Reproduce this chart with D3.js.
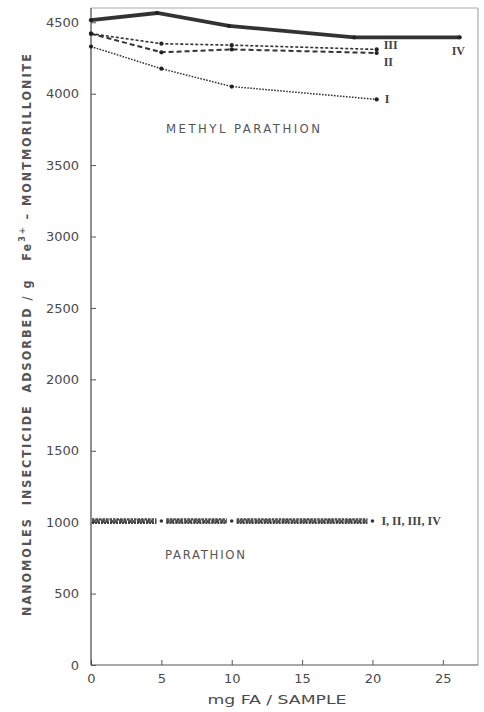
<!DOCTYPE html>
<html>
<head>
<meta charset="utf-8">
<script src="https://cdn.jsdelivr.net/npm/d3@7"></script>
<style>
  html, body { margin: 0; padding: 0; background: #fff; }
  svg { display: block; }
</style>
</head>
<body>
<svg id="chart" width="484" height="712"></svg>
<script>
// ---------- data ----------
const xTicks = [0, 5, 10, 15, 20, 25];
const yTicks = [0, 500, 1000, 1500, 2000, 2500, 3000, 3500, 4000, 4500];

// Methyl parathion (four fulvic acid fractions)
const mpX_IV = [0, 4.7, 9.8, 18.7, 26.2];
const mpY_IV = [4515, 4565, 4475, 4395, 4395];
const mpX_III = [0, 5, 10, 20.3];
const mpY_III = [4420, 4350, 4340, 4310];
const mpX_II = [0, 5, 10, 20.3];
const mpY_II = [4420, 4290, 4310, 4285];
const mpX_I = [0, 5, 10, 20.3];
const mpY_I = [4330, 4175, 4050, 3960];

// Parathion (all four fractions overlap)
const pX = [0, 5, 10, 20];
const pY_I = [995, 995, 995, 995];
const pY_II = [1005, 1005, 1005, 1005];
const pY_III = [1020, 1020, 1020, 1020];
const pY_IV = [1012, 1012, 1012, 1012];

const seriesLabels = ["I", "II", "III", "IV"];

// ---------- drawing ----------
const svg = d3.select("#chart");
const x = d3.scaleLinear().domain([0, 27.5]).range([91, 478]);
const y = d3.scaleLinear().domain([0, 4600]).range([665, 8]);

const ink = "#333";
const textCol = "#4a4a4a";

// frame (top & right are faint)
svg.append("line").attr("x1", x(0)).attr("x2", x(27.5)).attr("y1", y(4600)).attr("y2", y(4600))
  .attr("stroke", "#aaa").attr("stroke-width", 1);
svg.append("line").attr("x1", x(27.5)).attr("x2", x(27.5)).attr("y1", y(4600)).attr("y2", y(0))
  .attr("stroke", "#999").attr("stroke-width", 1);

// axes with inward ticks
const xAxis = d3.axisBottom(x).tickValues(xTicks).tickSize(-5).tickPadding(10)
  .tickFormat(d3.format("d"));
const gx = svg.append("g").attr("transform", `translate(0,${y(0)})`).call(xAxis);
gx.select(".domain").attr("d", `M${x(0)},0H${x(27.5)}`).attr("stroke", "#555").attr("stroke-width", 1.2);
gx.selectAll(".tick line").attr("stroke", "#555");
gx.selectAll(".tick text").attr("font-family", "DejaVu Sans, sans-serif").attr("font-size", 13)
  .attr("fill", textCol).attr("dy", "0.6em");

const yAxis = d3.axisLeft(y).tickValues(yTicks).tickSize(-5).tickPadding(12)
  .tickFormat(d3.format("d"));
const gy = svg.append("g").attr("transform", `translate(${x(0)},0)`).call(yAxis);
gy.select(".domain").attr("d", `M0,${y(4600)}V${y(0)}`).attr("stroke", "#444").attr("stroke-width", 1.2);
gy.selectAll(".tick line").attr("stroke", "#555");
gy.selectAll(".tick text").attr("font-family", "DejaVu Sans, sans-serif").attr("font-size", 13)
  .attr("fill", textCol);

// axis titles
svg.append("text").attr("x", 277).attr("y", 704).attr("text-anchor", "middle")
  .attr("font-family", "DejaVu Sans Condensed, DejaVu Sans, sans-serif").attr("font-size", 12.5)
  .attr("fill", textCol).attr("textLength", 139).attr("lengthAdjust", "spacingAndGlyphs")
  .text("mg FA / SAMPLE");

const yt = svg.append("text").attr("transform", "translate(31,335) rotate(-90)")
  .attr("text-anchor", "middle")
  .attr("font-family", "DejaVu Sans Condensed, DejaVu Sans, sans-serif").attr("font-size", 12.5)
  .attr("font-weight", "bold").attr("fill", "#555")
  .attr("textLength", 562).attr("lengthAdjust", "spacing")
  .attr("xml:space", "preserve");
yt.append("tspan").text("NANOMOLES  INSECTICIDE  ADSORBED / g   Fe");
yt.append("tspan").attr("dy", -6).attr("font-size", 9).text("3+");
yt.append("tspan").attr("dy", 6).text(" \u2013 MONTMORILLONITE");

// line generator
const line = d3.line().x(d => x(d[0])).y(d => y(d[1]));
const zipPts = (xs, ys) => xs.map((v, i) => [v, ys[i]]);

const mpSeries = [
  { xs: mpX_I, ys: mpY_I, w: 1.5, dash: "1.6,1.4", label: seriesLabels[0], lx: 8, ly: 4 },
  { xs: mpX_II, ys: mpY_II, w: 2.0, dash: "5,3", label: seriesLabels[1], lx: 7, ly: 13 },
  { xs: mpX_III, ys: mpY_III, w: 1.6, dash: "3,2", label: seriesLabels[2], lx: 7, ly: 0 },
  { xs: mpX_IV, ys: mpY_IV, w: 3.8, dash: null, label: seriesLabels[3], lx: -8, ly: 18 }
];

mpSeries.forEach(s => {
  const pts = zipPts(s.xs, s.ys);
  svg.append("path").attr("d", line(pts)).attr("fill", "none").attr("stroke", ink)
    .attr("stroke-width", s.w).attr("stroke-dasharray", s.dash);
  svg.selectAll(null).data(pts).enter().append("circle")
    .attr("cx", d => x(d[0])).attr("cy", d => y(d[1])).attr("r", 2.1).attr("fill", "#222");
  const last = pts[pts.length - 1];
  svg.append("text").attr("x", x(last[0]) + s.lx).attr("y", y(last[1]) + s.ly)
    .attr("font-family", "Liberation Serif, serif").attr("font-weight", "bold")
    .attr("font-size", 12).attr("fill", "#444").text(s.label);
});

svg.append("text").attr("x", 166).attr("y", 133)
  .attr("font-family", "DejaVu Sans Condensed, DejaVu Sans, sans-serif").attr("font-size", 13)
  .attr("fill", "#555").attr("textLength", 154).attr("lengthAdjust", "spacing")
  .text("METHYL PARATHION");

// parathion strip: segments between points, trimmed so the point dots stand apart
const pSeries = [
  { ys: pY_I, dash: "2,1", w: 2.4, col: "#444" },
  { ys: pY_II, dash: "3,1.5", w: 2.4, col: "#3a3a3a" },
  { ys: pY_III, dash: "2.5,1", w: 2.2, col: "#444" },
  { ys: pY_IV, dash: "1.5,1.5", w: 2.4, col: "#555" }
];
const gap = 5;
pSeries.forEach(s => {
  const pts = zipPts(pX, s.ys);
  for (let i = 0; i < pts.length - 1; i++) {
    const x1 = x(pts[i][0]) + (i === 0 ? 1 : gap);
    const x2 = x(pts[i + 1][0]) - gap;
    svg.append("line").attr("x1", x1).attr("x2", x2)
      .attr("y1", y(pts[i][1])).attr("y2", y(pts[i + 1][1]))
      .attr("stroke", s.col).attr("stroke-width", s.w).attr("stroke-dasharray", s.dash);
  }
});
const pMean = pX.map((v, i) => [v, (pY_I[i] + pY_II[i] + pY_III[i] + pY_IV[i]) / 4]);
svg.selectAll(null).data(pMean.slice(1)).enter().append("circle")
  .attr("cx", d => x(d[0])).attr("cy", d => y(d[1])).attr("r", 1.8).attr("fill", "#333");
svg.append("text").attr("x", x(20) + 9).attr("y", y(pMean[3][1]) + 4)
  .attr("font-family", "Liberation Serif, serif").attr("font-weight", "bold")
  .attr("font-size", 12).attr("fill", "#444").attr("xml:space", "preserve")
  .text(seriesLabels.join(", "));

svg.append("text").attr("x", 165).attr("y", 559)
  .attr("font-family", "DejaVu Sans Condensed, DejaVu Sans, sans-serif").attr("font-size", 13)
  .attr("fill", "#555").attr("textLength", 80).attr("lengthAdjust", "spacing")
  .text("PARATHION");
</script>
</body>
</html>
